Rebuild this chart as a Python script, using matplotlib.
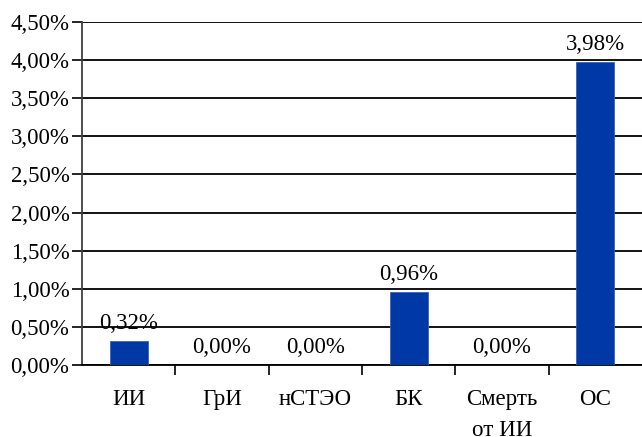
import numpy as np
from matplotlib import pyplot as plt
from matplotlib.ticker import FuncFormatter, FixedLocator, NullFormatter

# data
categories = ['ИИ', 'ГрИ', 'нСТЭО', 'БК', 'Смерть\nот ИИ', 'ОС']
values = [0.32, 0.00, 0.00, 0.96, 0.00, 3.98]   # percent

plt.rcParams['font.family'] = ['Liberation Serif', 'DejaVu Serif']
plt.rcParams['font.size'] = 16.5

fig = plt.figure(figsize=(6.42, 4.37), dpi=100)
ax = fig.add_axes([82/642, 1-365/437, 560/642, 343/437])

x = np.arange(len(categories))
ax.bar(x, values, width=0.41, color='#0039a6', edgecolor='#3a62b8', linewidth=0.6, zorder=3)

def pct(v, pos=None):
	return ('%.2f%%' % v).replace('.', ',')

for xi, v in zip(x, values):
	ax.annotate(pct(v), (xi, v), xytext=(0, 5), textcoords='offset points',
		ha='center', va='bottom', fontsize=16.5, zorder=4)

ax.set_xlim(-0.5, len(categories)-0.5)
ax.set_ylim(0, 4.5)
ax.set_yticks(np.arange(0, 4.51, 0.5))
ax.yaxis.set_major_formatter(FuncFormatter(pct))
ax.yaxis.grid(True, color='black', linewidth=1.3, zorder=1)

# category boundaries as ticks, labels centred
ax.xaxis.set_major_locator(FixedLocator(np.arange(0.5, len(categories)-1, 1.0)))
ax.xaxis.set_major_formatter(NullFormatter())
ax.xaxis.set_minor_locator(FixedLocator(x))
ax.set_xticklabels(categories, minor=True, linespacing=1.65)
ax.tick_params(axis='x', which='minor', length=0, pad=17, labelsize=16.5)
ax.tick_params(axis='x', which='major', length=7, width=1.2, direction='out', color='black')
ax.tick_params(axis='y', length=7, width=1.2, color='black', pad=2, labelsize=16.5)

for s in ['top', 'right']:
	ax.spines[s].set_visible(False)
ax.spines['left'].set_color('#404040')
ax.spines['left'].set_linewidth(1.3)
ax.spines['bottom'].set_color('black')
ax.spines['bottom'].set_linewidth(1.3)

fig.savefig('out.png', dpi=100)
